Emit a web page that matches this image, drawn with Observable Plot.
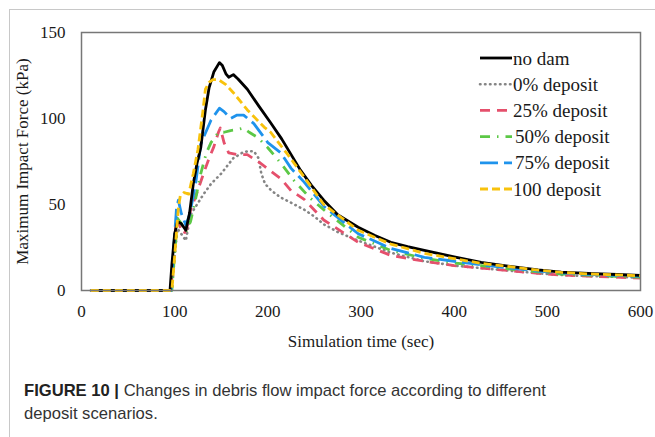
<!DOCTYPE html>
<html>
<head>
<meta charset="utf-8">
<script src="https://cdn.jsdelivr.net/npm/d3@7"></script>
<script src="https://cdn.jsdelivr.net/npm/@observablehq/plot@0.6"></script>
<style>
  html, body { margin: 0; padding: 0; background: #fff; }
  #wrap { position: relative; width: 655px; height: 437px; overflow: hidden; }
  #outer { position: absolute; left: 9px; top: 9px; width: 700px; height: 500px; border-left: 1px solid #c8c8c8; border-top: 1px solid #c8c8c8; }
  #chart { position: absolute; left: 0; top: 0; }
  #legend { position: absolute; left: 0; top: 0; }
  #caption { position: absolute; left: 24px; top: 379px; width: 620px; font-family: "Liberation Sans", Arial, sans-serif; font-size: 16.6px; line-height: 23px; color: #333; white-space: nowrap; }
  #caption b { color: #222; }
</style>
</head>
<body>
<div id="wrap">
  <div id="outer"></div>
  <div id="chart"></div>
  <svg id="legend" width="655" height="300"></svg>
  <div id="caption"><b>FIGURE 10 |</b>&nbsp;Changes in debris flow impact force according to different<br>deposit scenarios.</div>
</div>
<script>
// Series names
const seriesNames = ["no dam", "0% deposit", "25% deposit", "50% deposit", "75% deposit", "100 deposit"];

// no dam
const tNoDam = [10,95,97,100,103,107,112,116,120,124,128,133,137,142,148,151,155,158,163,168,178,190,203,215,225,235,247,260,275,297,315,332,350,368,400,429,460,490,515,550,575,600];
const vNoDam = [0,0,15,33,40,39,35,45,62,74,83,105,118,127,132.5,131,126,124,125.5,123,117,107.5,97.5,88,79,70,61,52.5,44,36.8,32,28,25.5,23.3,19.5,16.3,14,12,10.7,9.8,9.3,8.8];

// 0% deposit
const tDep0 = [10,97,100,103,107,112,117,124,131,139,150,163,174,180,185,190,193,197,204,214,225,239,250,260,275,297,332,368,400,429,460,490,515,550,600];
const vDep0 = [0,0,20,36,33,29,44,50,56,62,68,77,80.5,81,81,77,68,62,58,54,51,47,43,38.5,34,29,22,17,14.5,13,11.5,10,9,8.3,7.5];

// 25% deposit
const tDep25 = [10,96,99,102,105,110,113,117,124,131,137,142,147,149,153,158,168,178,192,214,225,239,260,297,332,368,400,429,460,490,515,550,600];
const vDep25 = [0,0,25,42,38,33,36,46.7,57,68,77,83.5,92,94.5,86,80,79,79,74,65,58,53,41,28,20.4,17,14.5,13,11.5,10,9,8.2,7.2];

// 50% deposit
const tDep50 = [10,97,100,103,107,112,117,122,128,134,139,147,153,160,167,174,180,189,200,214,228,245,262,297,332,368,400,429,460,490,515,550,600];
const vDep50 = [0,0,22,42,39,34,40,52,68,80,86,92,92,93,93.5,94.5,92,89,83,74,64,54,46,31,23.3,18.7,16,14.5,12.5,10.8,9.6,8.7,7.8];

// 75% deposit
const tDep75 = [10,96,99,102,104,107,112,116,120,123,128,131,139,148,153,160,167,174,185,200,214,225,239,260,297,332,368,400,429,460,490,515,550,600];
const vDep75 = [0,0,25,48,52.5,45,38,44,55,64,85,89,99,106,104,100,102,102,97,86,80,71,63,49,33,24.5,19.3,17,15,13,11.3,10.2,9.2,8.3];

// 100 deposit
const tDep100 = [10,97,100,104,106,110,115,120,125,130,133,137,141,147,155,163,178,196,203,220,235,260,297,332,368,400,429,460,490,515,550,600];
const vDep100 = [0,0,20,48,55,57,56,68,82,103,117,121,122.6,122.6,119.7,115,105,95,92,80,69,50,35,27,21.6,18.5,15.8,13.8,11.8,10.5,9.5,8.6];

const seriesT = [tNoDam, tDep0, tDep25, tDep50, tDep75, tDep100];
const seriesV = [vNoDam, vDep0, vDep25, vDep50, vDep75, vDep100];

const xTicks = [0, 100, 200, 300, 400, 500, 600];
const yTicks = [0, 50, 100, 150];

const serifFont = "'Liberation Serif', 'Times New Roman', serif";

const styles = [
  {stroke: "#000000", width: 2.8, dash: null, cap: "butt"},
  {stroke: "#858585", width: 2.6, dash: "0.5,4.5", cap: "round"},
  {stroke: "#e5506c", width: 2.8, dash: "10,7", cap: "butt"},
  {stroke: "#5cc846", width: 2.8, dash: "10,7,1.5,7", cap: "butt"},
  {stroke: "#1f93ec", width: 2.8, dash: "18,6", cap: "butt"},
  {stroke: "#f8c20c", width: 2.8, dash: "8,4", cap: "butt"}
];

const rows = [];
seriesNames.forEach((name, i) => {
  seriesT[i].forEach((t, j) => rows.push({series: name, t, v: seriesV[i][j]}));
});

const lineMarks = seriesNames.map((name, i) => Plot.line(rows.filter(d => d.series === name), {
  x: "t", y: "v",
  stroke: styles[i].stroke,
  strokeWidth: styles[i].width,
  strokeDasharray: styles[i].dash,
  strokeLinecap: styles[i].cap,
  strokeLinejoin: "round"
}));

const ordered = [lineMarks[1], lineMarks[2], lineMarks[3], lineMarks[4], lineMarks[0], lineMarks[5]];

const chart = Plot.plot({
  width: 655,
  height: 360,
  marginLeft: 81,
  marginRight: 15,
  marginTop: 32,
  marginBottom: 70,
  style: {fontFamily: serifFont, fontSize: "17px", color: "#1a1a1a", background: "transparent"},
  x: {domain: [0, 600]},
  y: {domain: [0, 150]},
  marks: [
    ...ordered,
    Plot.frame({stroke: "#777", strokeWidth: 1.5}),
    Plot.axisX({ticks: xTicks, tickSize: 0, tickPadding: 14, label: "Simulation time (sec)", labelAnchor: "center", labelArrow: "none", labelOffset: 56}),
    Plot.axisY({ticks: yTicks, tickSize: 0, tickPadding: 16, label: "Maximum Impact Force (kPa)", labelAnchor: "center", labelArrow: "none", labelOffset: 66})
  ]
});
document.getElementById("chart").appendChild(chart);

// Legend
const leg = d3.select("#legend").style("font-family", serifFont);
const legY0 = 58, legDy = 26.2;
seriesNames.forEach((name, i) => {
  const y = legY0 + i * legDy;
  leg.append("line")
    .attr("x1", 480).attr("x2", 512).attr("y1", y).attr("y2", y)
    .attr("stroke", styles[i].stroke)
    .attr("stroke-width", styles[i].width)
    .attr("stroke-dasharray", styles[i].dash)
    .attr("stroke-linecap", styles[i].cap);
  leg.append("text")
    .attr("x", i >= 3 && i <= 4 ? 515 : 513).attr("y", y)
    .attr("dy", "0.35em")
    .style("font-family", serifFont)
    .style("font-size", "19px")
    .style("fill", "#1a1a1a")
    .text(name);
});
</script>
</body>
</html>
